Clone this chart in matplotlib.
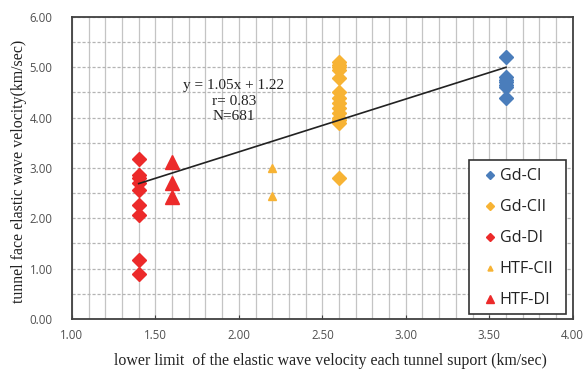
import matplotlib
matplotlib.use("Agg")
import matplotlib.pyplot as plt
import numpy as np
from matplotlib.ticker import MultipleLocator, FormatStrFormatter
from matplotlib.patches import Rectangle

# Data
gd_ci_x = [3.6] * 7
gd_ci_y = [5.2, 4.8, 4.75, 4.7, 4.65, 4.6, 4.4]
gd_cii_x = [2.6] * 14
gd_cii_y = [5.1, 5.05, 5.0, 4.95, 4.78, 4.5, 4.4, 4.3, 4.2, 4.1, 4.0, 3.95, 3.9, 2.8]
gd_di_x = [1.4] * 9
gd_di_y = [3.18, 2.86, 2.8, 2.7, 2.56, 2.27, 2.07, 1.17, 0.89]
htf_cii_x = [2.2, 2.2]
htf_cii_y = [3.0, 2.44]
htf_di_x = [1.6, 1.6, 1.6]
htf_di_y = [3.12, 2.7, 2.42]
slope, intercept = 1.05, 1.22
fit_x = [1.4, 3.6]

fig = plt.figure(figsize=(5.85, 3.69), dpi=100)
ax = fig.add_axes([0.123, 0.1355, 0.856, 0.8185])

ax.set_xlim(1.0, 4.0)
ax.set_ylim(0.0, 6.0)

# grid
ax.xaxis.set_major_locator(MultipleLocator(0.5))
ax.xaxis.set_minor_locator(MultipleLocator(0.1))
ax.yaxis.set_major_locator(MultipleLocator(1.0))
ax.yaxis.set_minor_locator(MultipleLocator(0.5))
ax.grid(which='both', axis='x', color='#c4c4c4', linewidth=0.9, linestyle='-')
ax.grid(which='both', axis='y', color='#b4b4b4', linewidth=0.9, linestyle=(0, (2.5, 1.5)))
ax.set_axisbelow(True)

ax.xaxis.set_major_formatter(FormatStrFormatter('%.2f'))
ax.yaxis.set_major_formatter(FormatStrFormatter('%.2f'))
tick_font = 'Open Sans'
for lab in ax.get_xticklabels() + ax.get_yticklabels():
    lab.set_fontfamily(tick_font)
ax.tick_params(axis='x', which='major', direction='in', length=3, color='#404040',
               labelsize=8.3, labelcolor='#505050', pad=7)
ax.tick_params(axis='x', which='minor', length=0)
ax.tick_params(axis='y', which='both', length=0, labelsize=8.3, labelcolor='#505050', pad=14)

for s in ax.spines.values():
    s.set_color('#404040')
    s.set_linewidth(1.3)

c_blue = '#4a7dbb'
c_orange = '#f7b334'
c_red = '#ec2a2a'

ax.plot(gd_ci_x, gd_ci_y, 'D', color=c_blue, markersize=7, label='Gd-CI', zorder=3)
ax.plot(gd_cii_x, gd_cii_y, 'D', color=c_orange, markersize=7, label='Gd-CII', zorder=3)
ax.plot(gd_di_x, gd_di_y, 'D', color=c_red, markersize=7, label='Gd-DI', zorder=3)
ax.plot(htf_cii_x, htf_cii_y, '^', color=c_orange, markersize=6, label='HTF-CII', zorder=3)
ax.plot(htf_di_x, htf_di_y, '^', color=c_red, markersize=9.5, label='HTF-DI', zorder=3)

fx = np.array(fit_x)
ax.plot(fx, slope * fx + intercept, color='#222222', linewidth=1.2, zorder=4)

ax.text(1.97, 4.33, 'y = 1.05x + 1.22\nr= 0.83\nN=681', family='Liberation Serif',
        fontsize=11, ha='center', va='center', linespacing=1.22, color='#222222')

# legend box drawn as a separate frame (axes coordinates)
box = Rectangle((0.7924, 0.0166), 0.1936, 0.51, transform=ax.transAxes,
                facecolor='white', edgecolor='#333333', linewidth=1.2, zorder=5)
ax.add_patch(box)

leg = ax.legend(loc='upper left', bbox_to_anchor=(483.6 / 585, 1 - 168.5 / 369),
                bbox_transform=fig.transFigure, frameon=False,
                labelspacing=0.93, handlelength=0.8, handletextpad=0.2,
                borderpad=0, borderaxespad=0,
                prop={'family': 'Open Sans', 'size': 11.6},
                markerscale=0.6)
leg.set_zorder(6)
for t in leg.get_texts():
    t.set_color('#222222')

ax.set_xlabel('lower limit  of the elastic wave velocity each tunnel suport (km/sec)',
              family='Liberation Serif', fontsize=11.4, color='#222222', va='top')
ax.xaxis.set_label_coords(0.517, (319 - 353) / 302)
ax.set_ylabel('tunnel face elastic wave velocity(km/sec)', family='Liberation Serif',
              fontsize=11.4, color='#222222', va='center')
ax.yaxis.set_label_coords(-0.106, 0.49)

fig.savefig('out.png', dpi=100)
